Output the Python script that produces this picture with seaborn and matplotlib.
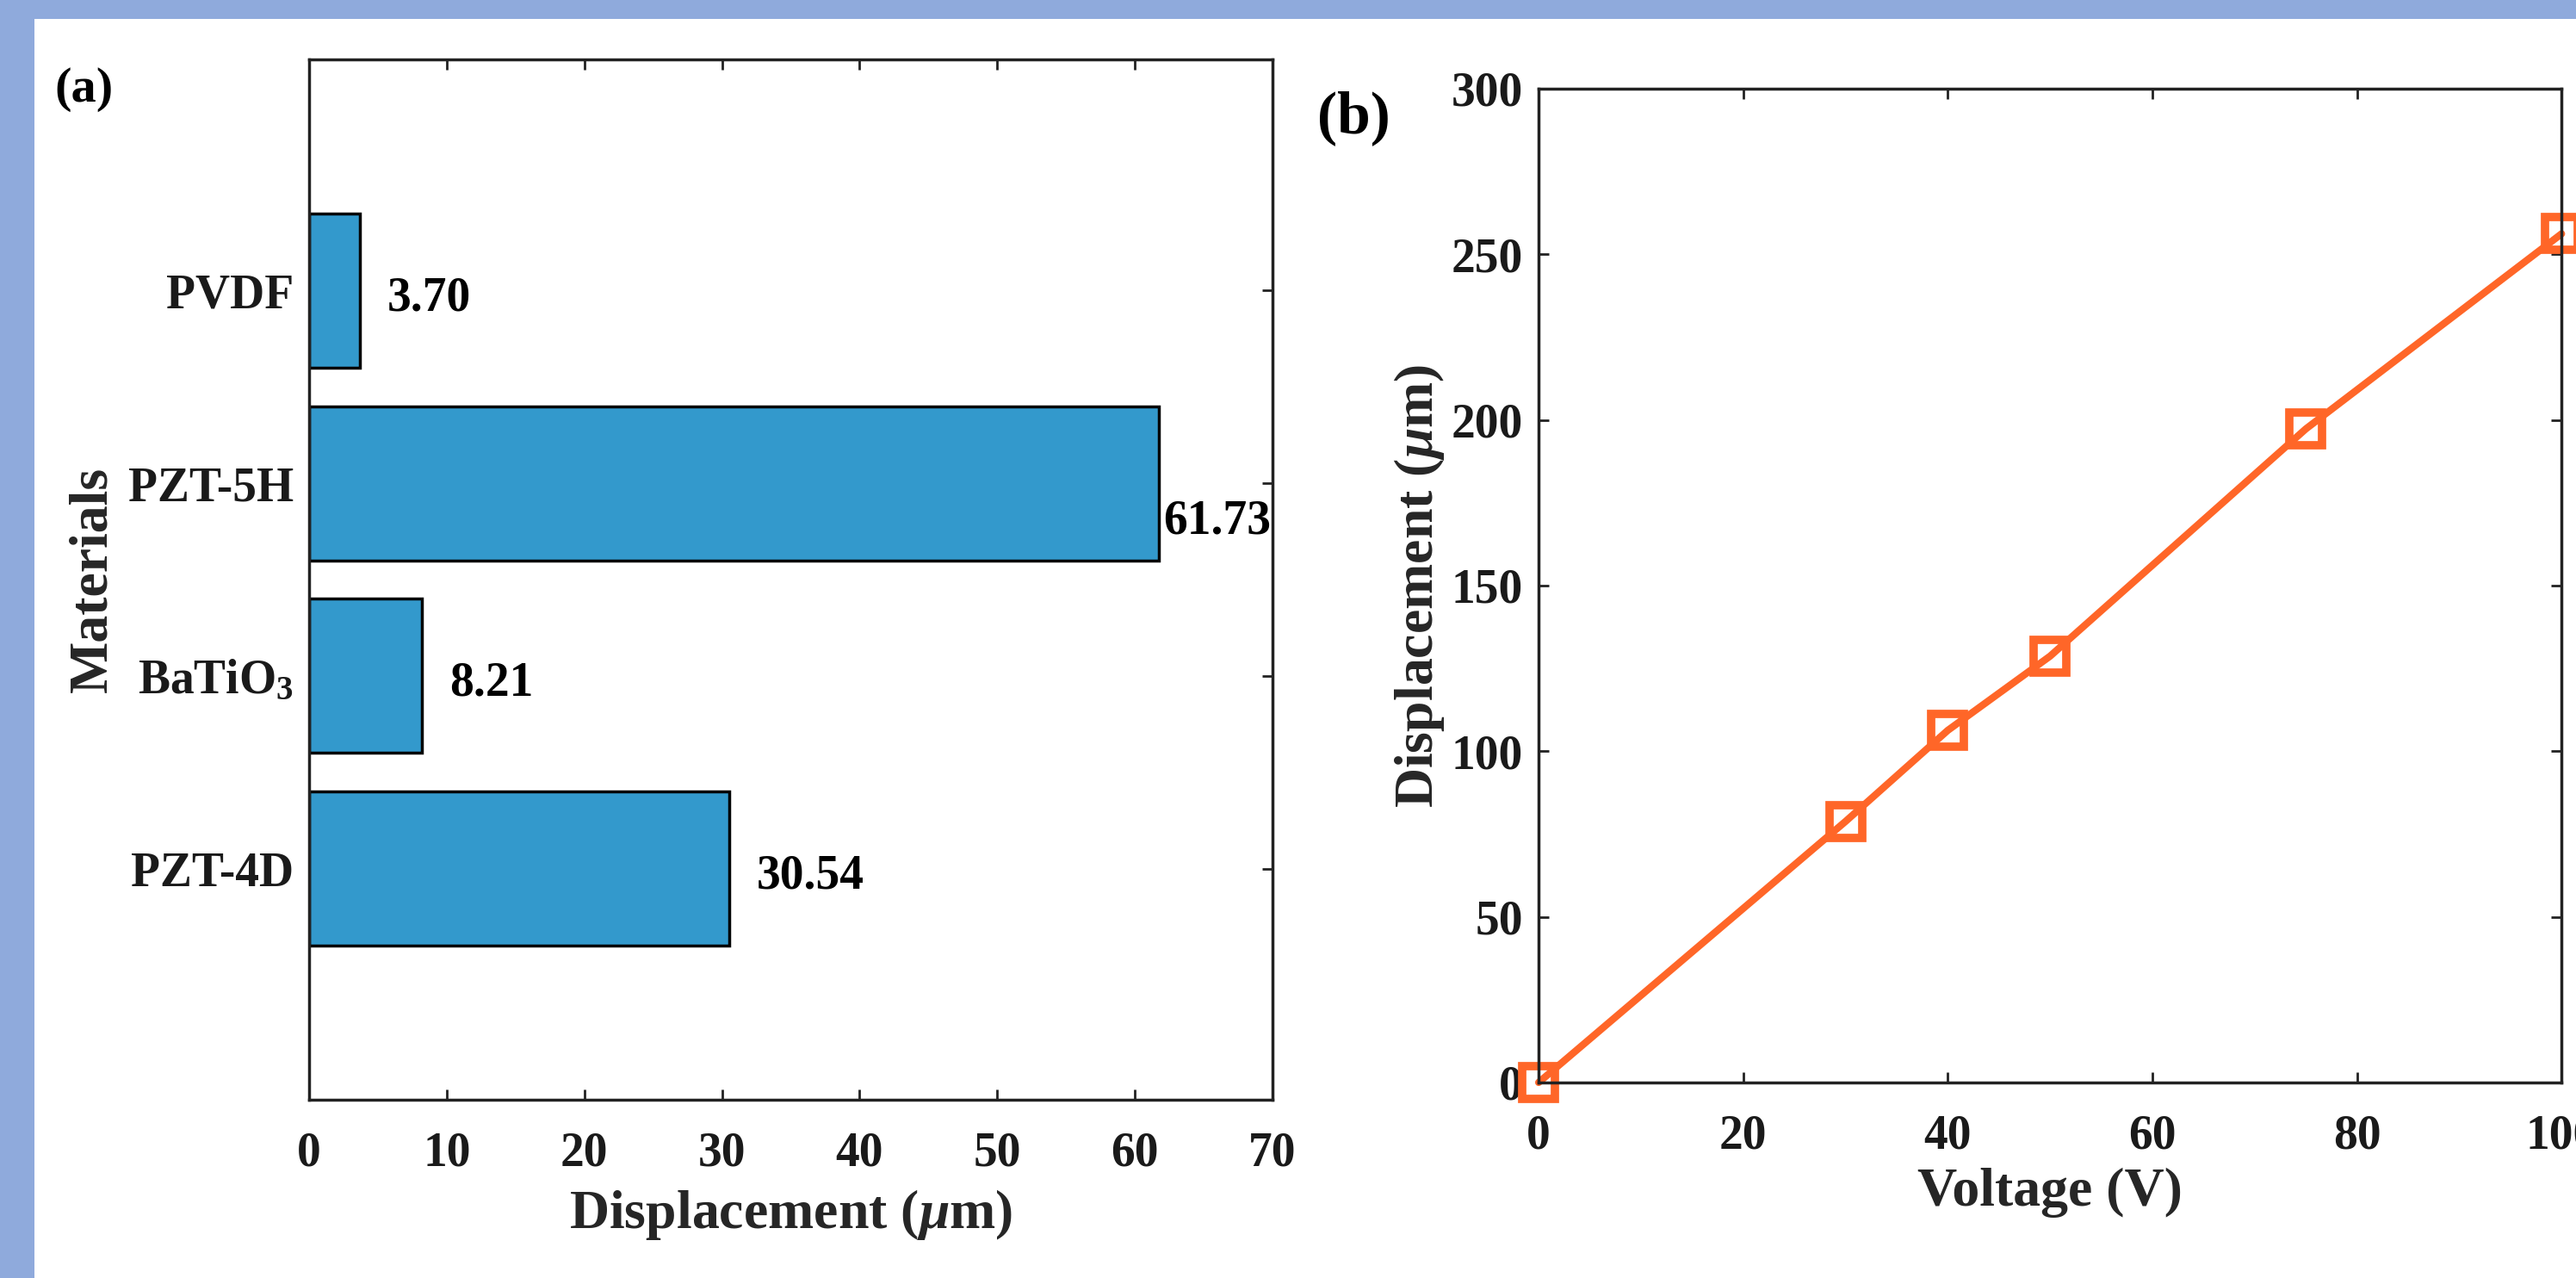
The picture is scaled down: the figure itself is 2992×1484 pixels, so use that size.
import matplotlib
matplotlib.use("Agg")
import matplotlib.pyplot as plt
import seaborn as sns
from matplotlib.patches import Rectangle

# (a) displacement of each material
materials = ['PVDF', 'PZT-5H', 'BaTiO$_3$', 'PZT-4D']
displacement_um = [3.70, 61.73, 8.21, 30.54]

# (b) displacement vs applied voltage
voltage = [0, 30, 40, 50, 75, 100]
disp_vs_voltage = [0, 78.8, 106.3, 128.7, 197.3, 256.2]

sns.set_theme(style='ticks')
plt.rcParams['font.family'] = ['Liberation Serif', 'DejaVu Serif']
plt.rcParams['font.weight'] = 'bold'
plt.rcParams['axes.labelweight'] = 'bold'
plt.rcParams['mathtext.fontset'] = 'custom'
plt.rcParams['mathtext.rm'] = 'Liberation Serif:bold'
plt.rcParams['mathtext.it'] = 'Liberation Serif:italic:bold'
plt.rcParams['mathtext.bf'] = 'Liberation Serif:bold'

bar_color = '#3399CC'
line_color = '#FF6628'
axis_color = '#222222'

fig = plt.figure(figsize=(29.92, 14.84), dpi=100, facecolor='#8FAADC')
# white panel inside the blue frame
fig.add_artist(Rectangle((0.01337, 0), 1, 0.9852, transform=fig.transFigure,
                         facecolor='white', edgecolor='none', zorder=-10))

ax1 = fig.add_axes([0.1200, 0.1395, 0.3740, 0.8140])
ax2 = fig.add_axes([0.5973, 0.1530, 0.3971, 0.7776])

# ---- (a) horizontal bars
sns.barplot(x=displacement_um, y=materials, orient='h', color=bar_color,
            saturation=1, edgecolor='black', linewidth=2.5, width=0.8, ax=ax1)
ax1.set_xlim(0, 70)
ax1.set_xticks(range(0, 71, 10))
ax1.set_ylim(4.2, -1.2)
ax1.set_xlabel(r'Displacement ($\mu$m)', fontsize=46, labelpad=10)
ax1.set_ylabel('Materials', fontsize=46, labelpad=8)

# value labels next to bars
nudges = {'PZT-5H': (0.3, 0.2)}
for i, (m, v) in enumerate(zip(materials, displacement_um)):
    dx, dy = nudges.get(m, (2.0, 0.04))
    ax1.text(v + dx, i + dy, f'{v:.2f}', va='center', ha='left',
             fontsize=40, fontweight='bold', color='black')

# ---- (b) displacement vs voltage
sns.lineplot(x=voltage, y=disp_vs_voltage, ax=ax2, color=line_color, lw=6,
             marker='s', markersize=27, markerfacecolor='none',
             markeredgecolor=line_color, markeredgewidth=7, clip_on=False)
ax2.set_xlim(0, 100)
ax2.set_ylim(0, 300)
ax2.set_xticks(range(0, 101, 20))
ax2.set_yticks(range(0, 301, 50))
ax2.set_xlabel('Voltage (V)', fontsize=46, labelpad=8)
ax2.set_ylabel(r'Displacement ($\mu$m)', fontsize=46, labelpad=4)

for ax in (ax1, ax2):
    for s in ax.spines.values():
        s.set_visible(True)
        s.set_linewidth(2.5)
        s.set_color(axis_color)
    ax.tick_params(direction='in', length=8.5, width=2, top=True, right=True,
                   colors=axis_color, labelsize=40, labelcolor='#1a1a1a')
    ax.tick_params(axis='x', pad=26)
    ax.tick_params(axis='y', pad=13)
    ax.set_facecolor('white')

fig.text(0.0211, 0.9205, '(a)', fontsize=42, fontweight='bold', color='black')
fig.text(0.5114, 0.8962, '(b)', fontsize=50, fontweight='bold', color='black')

fig.savefig('out.png', dpi=100, facecolor=fig.get_facecolor())
